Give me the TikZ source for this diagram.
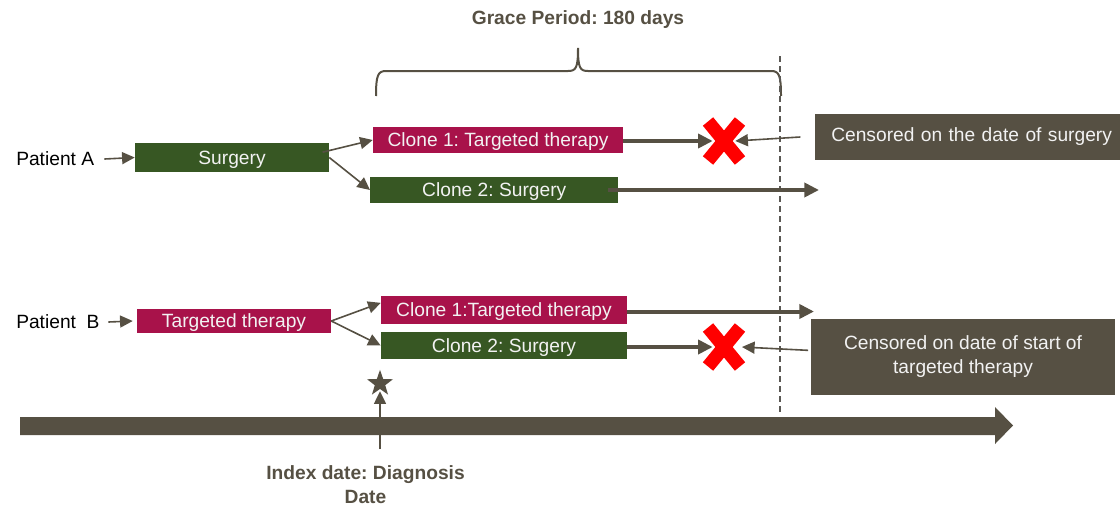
\documentclass[tikz,border=0pt]{standalone}
\usepackage{fontspec}
\setmainfont{Liberation Sans}
\usetikzlibrary{arrows.meta,shapes.geometric,calc}

\definecolor{sgreen}{RGB}{55,87,35}
\definecolor{tmag}{RGB}{168,18,74}
\definecolor{taupe}{RGB}{86,80,67}
\definecolor{boxtxt}{RGB}{242,242,242}
\definecolor{dashgrey}{RGB}{90,88,84}

\frenchspacing
\begin{document}
\begin{tikzpicture}[x=0.75pt,y=-0.75pt,
  lbl/.style={inner sep=0pt, font=\fontsize{14.4}{17.3}\selectfont},
  headlbl/.style={lbl, text=taupe, font=\fontsize{14.4}{18}\selectfont\bfseries, align=center},
  bar/.style={lbl, rectangle, text=boxtxt, text height=10.3pt, text depth=0pt},
  surgbar/.style={bar, fill=sgreen},
  ttbar/.style={bar, fill=tmag},
  notebox/.style={lbl, rectangle, fill=taupe, text=boxtxt},
  thinarrow/.style={draw=taupe, line width=1.2pt, -{Triangle[length=9.5pt,width=9pt]}},
  thickarrow/.style={draw=taupe, line width=3pt, -{Triangle[length=11pt,width=10.5pt]}},
  xslot/.style={inner sep=0pt, minimum width=16.5pt, minimum height=16.5pt},
  redcross/.style={draw=red, line width=10pt, line cap=butt},
  gracebrace/.style={draw=taupe, line width=1.5pt},
  graceline/.style={draw=dashgrey, line width=1.1pt, dash pattern=on 4.5pt off 3pt},
  indexstar/.style={star, star points=5, star point ratio=2.5, fill=taupe, inner sep=0pt, minimum size=20.5pt}
]
\useasboundingbox (0,0) rectangle (1120,514);

% grace period bracket and its end line
\node[headlbl] (grace) at (578,20) {Grace Period: 180 days};
\draw[gracebrace] (376,96) .. controls (376,75) and (378,71) .. (386,71) -- (568,71)
  .. controls (576,71) and (578,68) .. (578,48)
  .. controls (578,68) and (580,71) .. (588,71) -- (771,71)
  .. controls (779,71) and (781,75) .. (781,96);
\draw[graceline] (780,56) -- (780,416);

% time axis
\fill[taupe] (20,417) -- (995,417) -- (995,407) -- (1013,425.5) -- (995,444) -- (995,435) -- (20,435) -- cycle;

% patient A
\node[lbl, anchor=west] (pA) at (16,159) {Patient A};
\node[surgbar, minimum width=145.5pt, minimum height=21.75pt] (sA) at (232,157.5) {Surgery};
\node[ttbar, minimum width=187.5pt, minimum height=19.5pt] (a1) at (498,140) {Clone 1: Targeted therapy};
\node[surgbar, minimum width=186pt, minimum height=19.5pt] (a2) at (494.25,190) {Clone 2: Surgery};
\node[xslot] (xA) at (724,141) {};
\coordinate (endA) at (819,190);
\node[notebox, anchor=west, minimum height=34.5pt, inner xsep=12pt, text width=240pt, align=left] (cA) at (815,137) {Censored on the date of surgery};

\draw[thinarrow] ([xshift=7.5pt]pA.east) -- (sA.west);
\draw[thinarrow] ([xshift=-5pt,yshift=4pt]sA.east) -- (a1.west);
\draw[thinarrow] (sA.east) -- (a2.west);
\draw[thickarrow] (a1.east |- xA) -- (xA.west);
\draw[thickarrow] ([xshift=-8pt]a2.east) -- (endA);
\draw[thinarrow] ([xshift=-11pt]cA.west) -- (xA.east);
\draw[redcross] ($(xA)+(-16,-19.5)$) -- ($(xA)+(16,19.5)$)
                ($(xA)+(16,-19.5)$) -- ($(xA)+(-16,19.5)$);

% patient B
\node[lbl, anchor=west] (pB) at (16,322) {Patient\ \ B};
\node[ttbar, minimum width=145.5pt, minimum height=18pt] (tB) at (234,321) {Targeted therapy};
\node[ttbar, minimum width=184.5pt, minimum height=21pt] (b1) at (504,309.5) {Clone 1:Targeted therapy};
\node[surgbar, minimum width=184.5pt, minimum height=20pt] (b2) at (504,345.5) {Clone 2: Surgery};
\node[xslot] (xB) at (724,347) {};
\coordinate (endB) at (814,311.5);
\node[notebox, minimum width=228pt, minimum height=57pt, align=center,
      font=\fontsize{14.4}{18}\selectfont] (cB) at (963,357) {Censored on date of start of\\targeted therapy};

\draw[thinarrow] ([xshift=6.5pt]pB.east) -- ([xshift=-3pt]tB.west);
\draw[thinarrow] (tB.east) -- ([yshift=5pt]b1.west);
\draw[thinarrow] (tB.east) -- (b2.west);
\draw[thickarrow] (b1.east |- endB) -- (endB);
\draw[thickarrow] (b2.east |- xB) -- (xB.west);
\draw[thinarrow] ([xshift=-2pt,yshift=5pt]cB.west) -- ([xshift=5pt]xB.east);
\draw[redcross] ($(xB)+(-16,-19.5)$) -- ($(xB)+(16,19.5)$)
                ($(xB)+(16,-19.5)$) -- ($(xB)+(-16,19.5)$);

% index date marker
\node[indexstar] (star) at (380,383.5) {};
\coordinate (idxfoot) at (380,449);
\draw[thinarrow] (idxfoot) -- ([yshift=-1.5pt]star.south);
\node[headlbl] (idx) at (365.5,485) {Index date: Diagnosis\\Date};
\end{tikzpicture}
\end{document}
